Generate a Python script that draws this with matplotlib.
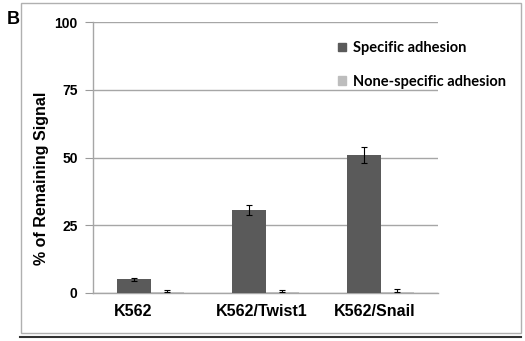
"""Remaining signal after adhesion assay, bar chart with error bars."""

import matplotlib
import numpy as np

matplotlib.use("Agg")
import matplotlib.pyplot as plt
from matplotlib.lines import Line2D
from matplotlib.patches import Rectangle

cell_lines = ["K562", "K562/Twist1", "K562/Snail"]
specific = [5.0, 30.6, 51.0]
specific_err = [0.6, 2.0, 3.0]
nonspecific = [0.3, 0.3, 0.4]
nonspecific_err = [0.8, 0.8, 0.9]
series_labels = ["Specific adhesion", "None-specific adhesion"]
y_ticks = [0, 25, 50, 75, 100]

plt.rcParams["font.family"] = ["Liberation Sans", "DejaVu Sans"]

W, H = 525, 341
fig = plt.figure(figsize=(W / 100, H / 100), dpi=100)
ax = fig.add_axes([93 / W, 1 - 293 / H, (438 - 93) / W, (293 - 22) / H])

x = np.arange(len(cell_lines))
width = 0.29
err_kw = dict(ecolor="black", elinewidth=0.8, capsize=2.5, capthick=0.8)
ax.bar(x - width / 2, specific, width, color="#5a5a5a", yerr=specific_err,
       error_kw=err_kw, zorder=3, label=series_labels[0])
ax.bar(x + width / 2, nonspecific, width, color="#bdbdbd",
       yerr=[[0, 0, 0], nonspecific_err], error_kw=err_kw, zorder=3,
       label=series_labels[1])

ax.set_xlim(-0.5, len(cell_lines) - 0.5)
ax.set_ylim(0, 100)
ax.set_yticks(y_ticks)
ax.set_yticklabels([str(t) for t in y_ticks], fontsize=10, fontweight="bold")
# labels in the original sit a little left of the bar pairs
ax.set_xticks(x + np.array([-0.15, -0.03, -0.05]))
ax.set_xticklabels(cell_lines, fontsize=11.5, fontweight="bold")
ax.tick_params(axis="x", length=0, pad=8)
ax.tick_params(axis="y", length=6, color="#9a9a9a", pad=5)
ax.yaxis.grid(True, color="#a6a6a6", linewidth=1)
ax.set_axisbelow(True)
for side in ("top", "right"):
    ax.spines[side].set_visible(False)
for side in ("left", "bottom"):
    ax.spines[side].set_color("#a6a6a6")
    ax.spines[side].set_linewidth(1)
fig.text(42 / W, 1 - 178 / H, "% of Remaining Signal", fontsize=11.5,
         fontweight="bold", rotation=90, ha="center", va="center")

handles = [Rectangle((0, 0), 1, 1, color="#5a5a5a"),
           Rectangle((0, 0), 1, 1, color="#bdbdbd")]
ax.legend(handles, series_labels, loc="upper left",
          bbox_to_anchor=(325 / W, 1 - 28 / H), bbox_transform=fig.transFigure,
          frameon=False, handlelength=0.55, handleheight=0.55, handletextpad=0.45,
          labelspacing=1.35, prop={"family": "Lato", "weight": "bold", "size": 10.5})

fig.text(7 / W, 1 - 19 / H, "B", fontsize=13, fontweight="bold", va="center")
fig.patches.append(Rectangle((21 / W, 1 - 333 / H), 500 / W, 330 / H,
                             transform=fig.transFigure, fill=False,
                             edgecolor="#b0b0b0", linewidth=1))
fig.lines.append(Line2D([20 / W, 521 / W], [1 - 337 / H, 1 - 337 / H],
                        transform=fig.transFigure, color="#333333", linewidth=1.5))

fig.savefig("out.png", dpi=100)
